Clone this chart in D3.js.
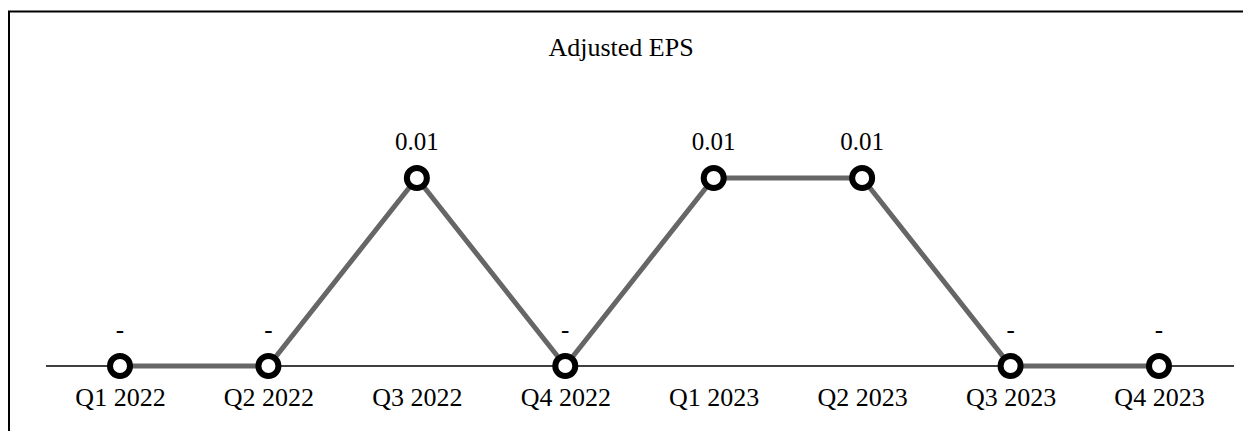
<!DOCTYPE html>
<html>
<head>
<meta charset="utf-8">
<script src="https://cdn.jsdelivr.net/npm/d3@7"></script>
<style>
  html, body { margin: 0; padding: 0; background: #fff; }
  svg { display: block; }
  svg text { font-family: 'Liberation Serif', 'Times New Roman', Times, 'DejaVu Serif', serif; fill: #000; }
</style>
</head>
<body>
<svg id="chart" width="1243" height="431"></svg>
<script>
const title = "Adjusted EPS";
const categories = ["Q1 2022", "Q2 2022", "Q3 2022", "Q4 2022", "Q1 2023", "Q2 2023", "Q3 2023", "Q4 2023"];
const values = [0, 0, 0.01, 0, 0.01, 0.01, 0, 0];
const valueLabels = ["-", "-", "0.01", "-", "0.01", "0.01", "-", "-"];

const FONT = "'Liberation Serif', 'Times New Roman', Times, 'DejaVu Serif', serif";
const svg = d3.select("#chart");
const W = 1243, H = 431;

// frame
svg.append("path")
  .attr("d", `M9,${H} L9,11.5 L${W},11.5`)
  .attr("fill", "none")
  .attr("stroke", "#000")
  .attr("stroke-width", 2);

const x = d3.scalePoint().domain(categories).range([120, 1159]);
const y = d3.scaleLinear().domain([0, 0.01]).range([366, 178]);

// title
svg.append("text")
  .attr("x", 621).attr("y", 56)
  .attr("text-anchor", "middle")
  .style("font-family", FONT)
  .style("font-size", "26px")
  .text(title);

// baseline axis
const axis = d3.axisBottom(x).tickSize(0).tickPadding(0);
const axisG = svg.append("g").attr("transform", `translate(0,${y(0)})`).call(axis);
axisG.select(".domain").remove();
axisG.attr("font-family", null).attr("font-size", null);
axisG.selectAll("text")
  .style("font-family", FONT)
  .style("font-size", "26px")
  .attr("fill", "#000")
  .attr("dy", null)
  .attr("y", 40);

svg.append("line")
  .attr("x1", 46).attr("x2", 1234)
  .attr("y1", y(0)).attr("y2", y(0))
  .attr("stroke", "#000").attr("stroke-width", 1.5);

// series line
const data = categories.map((c, i) => ({c, v: values[i], label: valueLabels[i]}));
svg.append("path")
  .datum(data)
  .attr("fill", "none")
  .attr("stroke", "#666")
  .attr("stroke-width", 5)
  .attr("d", d3.line().x(d => x(d.c)).y(d => y(d.v)));

// markers
svg.selectAll("circle.pt").data(data).join("circle")
  .attr("class", "pt")
  .attr("cx", d => x(d.c)).attr("cy", d => y(d.v))
  .attr("r", 10)
  .attr("fill", "#fff")
  .attr("stroke", "#000")
  .attr("stroke-width", 6);

// value labels
svg.selectAll("text.vl").data(data).join("text")
  .attr("class", "vl")
  .attr("x", d => x(d.c)).attr("y", d => y(d.v) - 28)
  .attr("text-anchor", "middle")
  .style("font-family", FONT)
  .style("font-size", "25px")
  .text(d => d.label);
</script>
</body>
</html>
